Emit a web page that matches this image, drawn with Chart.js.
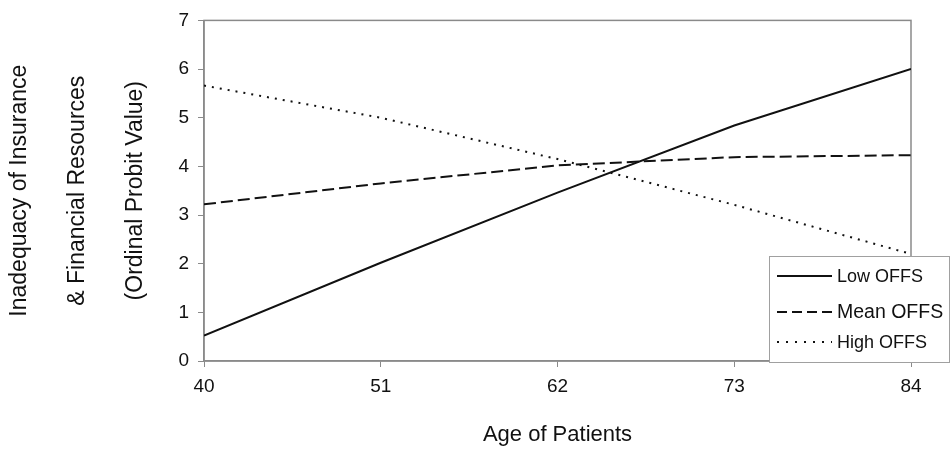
<!DOCTYPE html>
<html>
<head>
<meta charset="utf-8">
<script src="https://cdn.jsdelivr.net/npm/chart.js@4"></script>
<style>
  html, body { margin: 0; padding: 0; background: #fff; }
  canvas { display: block; }
</style>
</head>
<body>
<canvas id="probit" width="951" height="454"></canvas>
<script>
    var ages = [40, 51, 62, 73, 84];
    var lowOffs = [0.52, 2.02, 3.46, 4.84, 6.0];
    var meanOffs = [3.22, 3.65, 4.02, 4.19, 4.23];
    var highOffs = [5.66, 5.0, 4.15, 3.21, 2.2];
    var seriesNames = ["Low OFFS", "Mean OFFS", "High OFFS"];
    var yTitle = ["Inadequacy of Insurance", "& Financial Resources", "(Ordinal Probit Value)"];
    var xTitle = "Age of Patients";

    var FONT = "'Liberation Sans', Arial, sans-serif";
    var INK = "#111";
    var AXIS = "#8a8a8a";

    function toPoints(values){
        var pts = [];
        for(var i = 0; i < ages.length; i++){
            pts.push({ x : ages[i], y : values[i] });
        }
        return pts;
    }

    // box round the plot area
    var frame = {
        id: "frame",
        beforeDatasetsDraw: function(chart){
            var a = chart.chartArea, ctx = chart.ctx;
            ctx.save();
            ctx.strokeStyle = AXIS;
            ctx.lineWidth = 1.5;
            ctx.strokeRect(a.left, a.top, a.right - a.left, a.bottom - a.top);
            ctx.restore();
        }
    };

    // legend box sitting over the lower right corner
    var boxLegend = {
        id: "boxLegend",
        afterDraw: function(chart){
            var ctx = chart.ctx;
            var bx = 769, by = 256, bw = 181, bh = 107;
            var rows = [276, 312, 342];
            var sizes = [18, 19.5, 18];
            ctx.save();
            ctx.fillStyle = "#fff";
            ctx.fillRect(bx, by, bw, bh);
            ctx.strokeStyle = "#a0a0a0";
            ctx.lineWidth = 1;
            ctx.strokeRect(bx + 0.5, by + 0.5, bw - 1, bh - 1);
            chart.data.datasets.forEach(function(ds, i){
                ctx.strokeStyle = INK;
                ctx.lineWidth = ds.borderWidth;
                ctx.setLineDash(ds.legendDash);
                ctx.beginPath();
                ctx.moveTo(777, rows[i]);
                ctx.lineTo(832, rows[i]);
                ctx.stroke();
                ctx.setLineDash([]);
                ctx.fillStyle = INK;
                ctx.font = sizes[i] + "px " + FONT;
                ctx.textBaseline = "middle";
                ctx.fillText(ds.label, 837, rows[i] + 1);
            });
            ctx.restore();
        }
    };

    function loadGraph(){
        var chartData = [
            // Low OFFS
            { label: seriesNames[0], data: toPoints(lowOffs), borderDash: [], legendDash: [] },
            // Mean OFFS
            { label: seriesNames[1], data: toPoints(meanOffs), borderDash: [12, 5], legendDash: [10, 5] },
            // High OFFS
            { label: seriesNames[2], data: toPoints(highOffs), borderDash: [2, 6], legendDash: [2, 7] }
        ];
        chartData.forEach(function(ds){
            ds.borderColor = INK;
            ds.borderWidth = 2;
            ds.pointRadius = 0;
            ds.fill = false;
            ds.tension = 0;
        });

        new Chart("probit", {
            type: "line",
            data: { datasets: chartData },
            options: {
                responsive: false,
                animation: false,
                layout: { padding: { top: 17, right: 40, bottom: 6, left: 0 } },
                plugins: {
                    legend: { display: false },
                    tooltip: { enabled: false }
                },
                scales: {
                    x: {
                        type: "linear",
                        min: 40,
                        max: 84,
                        afterFit: function(scale){ scale.height = 87; },
                        ticks: {
                            stepSize: 11,
                            color: INK,
                            padding: 8,
                            font: { family: FONT, size: 19 }
                        },
                        grid: { drawOnChartArea: false, tickLength: 6, color: AXIS },
                        border: { color: AXIS, width: 1.5 },
                        title: {
                            display: true,
                            text: xTitle,
                            color: INK,
                            padding: 0,
                            font: { family: FONT, size: 22 }
                        }
                    },
                    y: {
                        min: 0,
                        max: 7,
                        afterFit: function(scale){ scale.width = 204; },
                        ticks: {
                            stepSize: 1,
                            color: INK,
                            padding: 9,
                            font: { family: FONT, size: 19 }
                        },
                        grid: { drawOnChartArea: false, tickLength: 6, color: AXIS },
                        border: { color: AXIS, width: 1.5 },
                        title: {
                            display: true,
                            text: yTitle,
                            color: INK,
                            padding: { top: -9, bottom: 0 },
                            font: { family: FONT, size: 23, lineHeight: "58px" }
                        }
                    }
                }
            },
            plugins: [frame, boxLegend]
        });
    }
    loadGraph();
</script>
</body>
</html>
